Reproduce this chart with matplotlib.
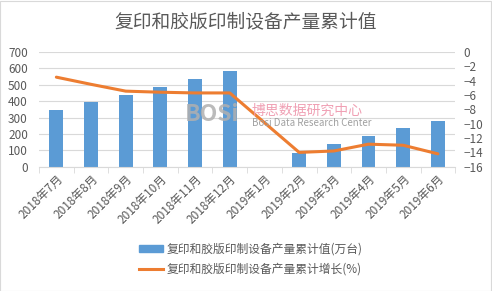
import matplotlib.pyplot as plt
from matplotlib.patches import Patch, Rectangle
from matplotlib.lines import Line2D
import numpy as np

plt.rcParams['font.family'] = ['Noto Sans CJK SC', 'DejaVu Sans']

# data
months = ["2018年7月", "2018年8月", "2018年9月", "2018年10月", "2018年11月", "2018年12月",
          "2019年1月", "2019年2月", "2019年3月", "2019年4月", "2019年5月", "2019年6月"]
output = [346, 394, 439, 487, 536, 584, np.nan, 85, 140, 189, 236, 280]
growth = [-3.5, -4.5, -5.45, -5.6, -5.7, -5.7, np.nan, -14.0, -13.8, -12.85, -13.0, -14.2]

bar_color = "#5b9bd5"
line_color = "#ed7d31"
text_color = "#595959"
grid_color = "#d9d9d9"

fig = plt.figure(figsize=(4.92, 2.91), dpi=100)
ax = fig.add_axes([0.0793, 0.427, 0.846, 0.394])
x = np.arange(len(months))

ax.bar(x, output, width=0.4, color=bar_color, zorder=2)
ax.set_ylim(0, 700)
ax.set_yticks(range(0, 701, 100))
ax.set_xlim(-0.5, len(months) - 0.5)
ax.yaxis.grid(True, color=grid_color, linewidth=0.8, zorder=0)
ax.set_axisbelow(True)
for s in ["top", "left", "right"]:
    ax.spines[s].set_visible(False)
ax.spines["bottom"].set_color(grid_color)
ax.tick_params(axis="y", length=0, labelsize=8.5, labelcolor=text_color, pad=8)
ax.set_xticks(x)
ax.set_xticklabels(months, rotation=45, ha="right", rotation_mode="anchor")
ax.set_xticks(np.arange(-0.5, len(months)), minor=True)
ax.tick_params(axis="x", which="major", length=0, labelsize=8.5, labelcolor=text_color, pad=4)
ax.tick_params(axis="x", which="minor", length=4, color=grid_color)

ax2 = ax.twinx()
g = np.array(growth)
ok = ~np.isnan(g)
ax2.plot(x[ok], g[ok], color=line_color, linewidth=2.2, zorder=3, solid_capstyle="round")
ax2.set_ylim(-16, 0)
ax2.set_yticks(range(-16, 1, 2))
for s in ["top", "left", "right", "bottom"]:
    ax2.spines[s].set_visible(False)
ax2.tick_params(axis="y", length=0, labelsize=8.5, labelcolor=text_color, pad=6)

fig.text(0.5, 0.925, "复印和胶版印制设备产量累计值", ha="center", va="center",
         fontsize=13.5, color=text_color)

# watermark
fig.text(0.376, 0.607, "BOSi", fontsize=16.5, color="#b0b0b0", fontweight="bold",
         ha="left", va="center", alpha=0.85, zorder=5)
fig.text(0.512, 0.619, "博思数据研究中心", fontsize=10, color="#f0a0b4", ha="left", va="center",
         zorder=5)
fig.text(0.513, 0.577, "Bosi Data Research Center", fontsize=7, color="#a0a0a0",
         ha="left", va="center", zorder=5)

fig.patches.append(Rectangle((0.001, 0.001), 0.997, 0.996, transform=fig.transFigure,
                             fill=False, edgecolor=grid_color, linewidth=0.8))

handles = [Patch(color=bar_color), Line2D([0], [0], color=line_color, linewidth=2.2)]
labels = ["复印和胶版印制设备产量累计值(万台)", "复印和胶版印制设备产量累计增长(%)"]
fig.legend(handles, labels, loc="center", bbox_to_anchor=(0.51, 0.11), frameon=False,
           fontsize=8.5, labelcolor=text_color, handlelength=2.0, handleheight=0.5,
           handletextpad=0.3, labelspacing=0.6)

fig.savefig("out.png", dpi=100)
